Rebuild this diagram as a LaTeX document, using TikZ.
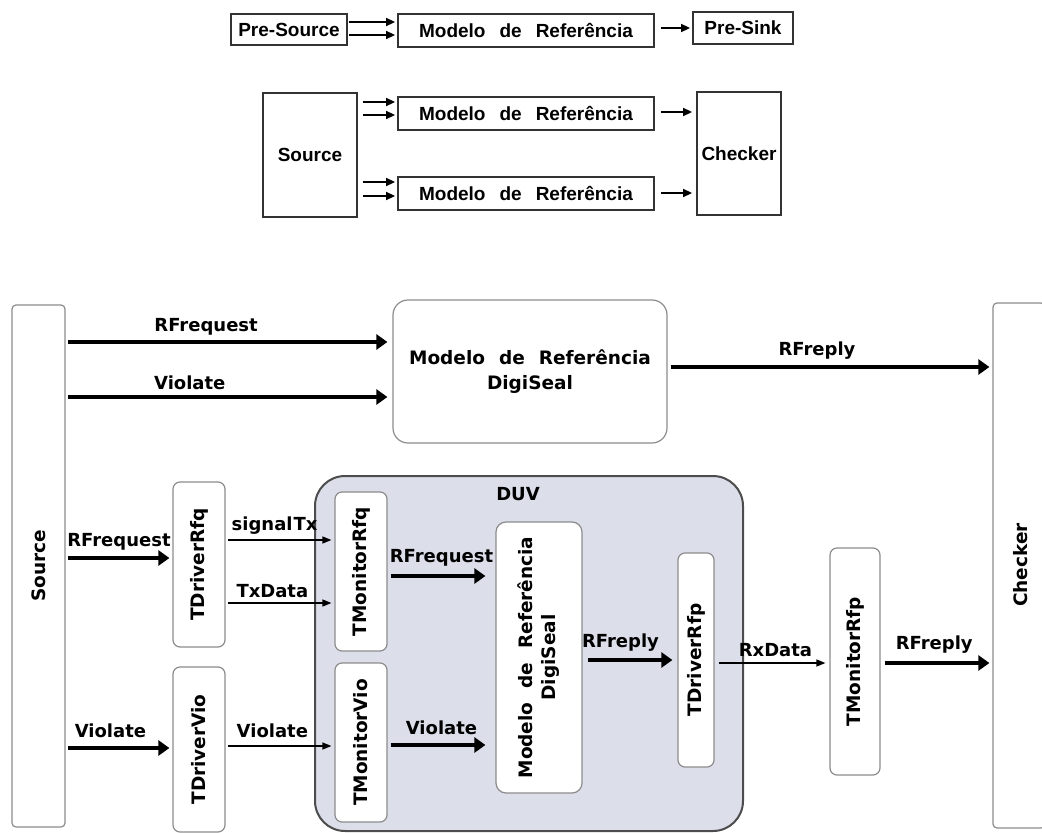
\documentclass[tikz,border=0pt]{standalone}
\usepackage{fontspec}
\setmainfont{DejaVu Sans}
\newfontfamily\topfont{Liberation Sans}
\usetikzlibrary{arrows.meta}
\definecolor{duvfill}{HTML}{DCDFEA}
\definecolor{softedge}{HTML}{8C8C8C}
\newcommand{\wsp}{\hspace{14pt}}
\begin{document}
\begin{tikzpicture}[x=1pt,y=-1pt,
  plainbox/.style={draw=black!80, line width=1.8pt, inner sep=0pt,
    font=\topfont\bfseries\fontsize{19}{22}\selectfont},
  softbox/.style={draw=softedge, line width=1.2pt, rounded corners=7pt, fill=white, inner sep=0pt},
  lbl/.style={font=\bfseries\fontsize{18}{21}\selectfont, inner sep=0pt},
  vlbl/.style={font=\bfseries\fontsize{18.5}{22}\selectfont, rotate=90, inner sep=0pt, align=center},
  smallarr/.style={line width=1.5pt, -{Triangle[length=9pt,width=8pt]}},
  thinarr/.style={line width=1.3pt, -{Triangle[length=9pt,width=7pt]}},
  thickarr/.style={line width=4.5pt, -{Triangle[length=11pt,width=15pt]}},
]
\useasboundingbox (0,0) rectangle (1042,833);

% ---- simple chain ----
\node[plainbox, minimum width=116pt, minimum height=31pt] (presrc) at (289,29.5) {Pre-Source};
\node[plainbox, minimum width=256pt, minimum height=33pt] (premod) at (526,30.5) {Modelo\wsp de\wsp Referência};
\node[plainbox, minimum width=100pt, minimum height=32pt] (presink) at (743,28) {Pre-Sink};
\coordinate (pa1) at ([yshift=8.5pt]premod.west);
\coordinate (pa2) at ([yshift=-4.5pt]premod.west);
\draw[smallarr, shorten >=2pt, shorten <=1pt] (presrc.east |- pa1) -- (pa1);
\draw[smallarr, shorten >=2pt, shorten <=1pt] (presrc.east |- pa2) -- (pa2);
\coordinate (pa3) at ([yshift=0pt]presink.west);
\draw[smallarr, shorten >=2pt, shorten <=6pt] (premod.east |- pa3) -- (pa3);

% ---- source with two reference models ----
\node[plainbox, minimum width=94pt, minimum height=124pt] (src2) at (310,155) {Source};
\node[plainbox, minimum width=256pt, minimum height=33pt] (mod2a) at (526,113.5) {Modelo\wsp de\wsp Referência};
\node[plainbox, minimum width=256pt, minimum height=33pt] (mod2b) at (526,193.5) {Modelo\wsp de\wsp Referência};
\node[plainbox, minimum width=84pt, minimum height=123pt] (chk2) at (739,153.5) {Checker};
\coordinate (qa1) at ([yshift=11.5pt]mod2a.west);
\coordinate (qa2) at ([yshift=-1.5pt]mod2a.west);
\coordinate (qb1) at ([yshift=11.5pt]mod2b.west);
\coordinate (qb2) at ([yshift=-2.5pt]mod2b.west);
\foreach \c in {qa1,qa2,qb1,qb2}
  \draw[smallarr, shorten >=2pt, shorten <=5pt] (src2.east |- \c) -- (\c);
\coordinate (qc1) at ([yshift=1.5pt]mod2a.east);
\coordinate (qc2) at ([yshift=0.5pt]mod2b.east);
\draw[smallarr, shorten >=4pt, shorten <=6pt] (qc1) -- (chk2.west |- qc1);
\draw[smallarr, shorten >=4pt, shorten <=6pt] (qc2) -- (chk2.west |- qc2);

% ---- test bench ----
\node[softbox, rounded corners=4pt, minimum width=53pt, minimum height=522pt,
  label={[vlbl]center:Source}] (src) at (38.5,566) {};
\begin{scope}
  \clip (0,0) rectangle (1042,833);
  \node[softbox, rounded corners=4pt, minimum width=52pt, minimum height=525pt] (chk) at (1019,565.5) {};
\end{scope}
\node[vlbl] (chktxt) at (1021,565) {Checker};
\node[softbox, rounded corners=15pt, minimum width=274pt, minimum height=143pt,
  font=\bfseries\fontsize{18.5}{25}\selectfont, align=center] (ref) at (530,371.5)
  {Modelo\wsp de\wsp Referência\\DigiSeal};

\coordinate (r1) at ([yshift=29.5pt]ref.west);
\coordinate (r2) at ([yshift=-25.5pt]ref.west);
\draw[thickarr, shorten >=5pt, shorten <=2pt] (src.east |- r1) -- (r1)
  node[lbl, pos=0.43, above=5pt] {RFrequest};
\draw[thickarr, shorten >=5pt, shorten <=2pt] (src.east |- r2) -- (r2)
  node[lbl, pos=0.38, above=5pt] {Violate};
\coordinate (r3) at ([yshift=4.5pt]ref.east);
\draw[thickarr, shorten >=3pt, shorten <=3pt] (r3) -- (chk.west |- r3)
  node[lbl, pos=0.46, above=5pt] {RFreply};

% DUV region
\node[draw=black!70, line width=2pt, fill=duvfill, rounded corners=30pt,
  minimum width=428pt, minimum height=355pt] (duv) at (529,653.5) {};
\node[lbl] (duvtxt) at (518,494) {DUV};

\node[softbox, minimum width=52pt, minimum height=165pt,
  label={[vlbl]center:TDriverRfq}] (tdrfq) at (199,564.5) {};
\node[softbox, minimum width=52pt, minimum height=165pt,
  label={[vlbl]center:TDriverVio}] (tdvio) at (199,749.5) {};
\node[softbox, minimum width=52pt, minimum height=159pt,
  label={[vlbl]center:TMonitorRfq}] (tmrfq) at (361,571.5) {};
\node[softbox, minimum width=52pt, minimum height=159pt,
  label={[vlbl]center:TMonitorVio}] (tmvio) at (361,742.5) {};
\node[softbox, rounded corners=10pt, minimum width=86pt, minimum height=271pt,
  label={[vlbl, font=\bfseries\fontsize{18.5}{23}\selectfont]center:Modelo\wsp de\wsp Referência\\DigiSeal}] (modv) at (539,657.5) {};
\node[softbox, minimum width=36pt, minimum height=214pt,
  label={[vlbl]center:TDriverRfp}] (tdrfp) at (696,660) {};
\node[softbox, minimum width=50pt, minimum height=227pt,
  label={[vlbl]center:TMonitorRfp}] (tmrfp) at (855,661.5) {};

% stimulus into the drivers
\coordinate (d1) at ([yshift=6.5pt]tdrfq.west);
\draw[thickarr, shorten >=3pt, shorten <=2pt] (src.east |- d1) -- (d1)
  node[lbl, pos=0.5, above=6pt] {RFrequest};
\coordinate (d2) at ([yshift=1.5pt]tdvio.west);
\draw[thickarr, shorten >=3pt, shorten <=2pt] (src.east |- d2) -- (d2)
  node[lbl, pos=0.42, above=8pt] {Violate};

% drivers to monitors
\coordinate (m1) at ([yshift=31.5pt]tmrfq.west);
\coordinate (m2) at ([yshift=-31.5pt]tmrfq.west);
\draw[thinarr, shorten >=3pt, shorten <=2pt] (tdrfq.east |- m1) -- (m1)
  node[lbl, pos=0.45, above=5pt] {signal\kern1pt Tx};
\draw[thinarr, shorten >=3pt, shorten <=2pt] (tdrfq.east |- m2) -- (m2)
  node[lbl, pos=0.43, above=5pt] {TxData};
\coordinate (m3) at ([yshift=-3.5pt]tmvio.west);
\draw[thinarr, shorten >=3pt, shorten <=2pt] (tdvio.east |- m3) -- (m3)
  node[lbl, pos=0.43, above=8pt] {Violate};

% monitors into the model
\coordinate (v1) at ([yshift=81.5pt]modv.west);
\draw[thickarr, shorten >=10pt, shorten <=3pt] (tmrfq.east |- v1) -- (v1)
  node[lbl, pos=0.5, above=8pt] {RFrequest};
\coordinate (v2) at ([yshift=-87.5pt]modv.west);
\draw[thickarr, shorten >=10pt, shorten <=3pt] (tmvio.east |- v2) -- (v2)
  node[lbl, pos=0.5, above=8pt] {Violate};

% reply path
\coordinate (w1) at (tdrfp.west);
\draw[thickarr, shorten >=5pt, shorten <=5pt] (modv.east |- w1) -- (w1)
  node[lbl, pos=0.4, above=6pt] {RFreply};
\coordinate (w2) at ([yshift=-1.5pt]tmrfp.west);
\draw[thinarr, shorten >=4pt, shorten <=4pt] (tdrfp.east |- w2) -- (w2)
  node[lbl, pos=0.53, above=6pt] {RxData};
\coordinate (w3) at ([yshift=-97.5pt]chk.west);
\draw[thickarr, shorten >=3pt, shorten <=4pt] (tmrfp.east |- w3) -- (w3)
  node[lbl, pos=0.48, above=7pt] {RFreply};
\end{tikzpicture}
\end{document}
